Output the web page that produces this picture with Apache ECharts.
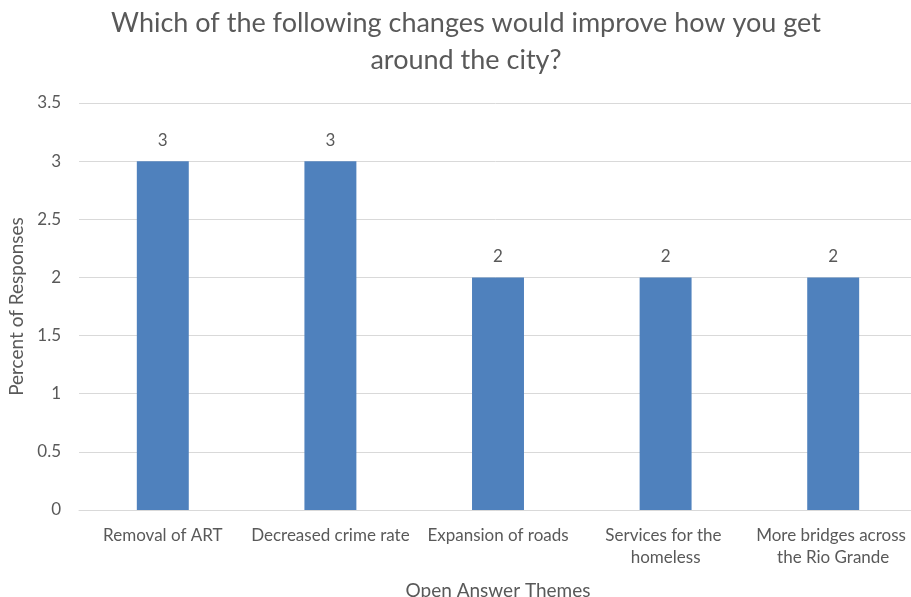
<!DOCTYPE html>
<html><head><meta charset="utf-8">
<script src="https://cdn.jsdelivr.net/npm/echarts@6/dist/echarts.min.js"></script>
<style>html,body{margin:0;padding:0;background:#fff}#c{width:911px;height:597px}</style>
</head><body><div id="c"></div>
<script>
const titleText = "Which of the following changes would improve how you get\naround the city?";
const categories = ["Removal of ART", "Decreased crime rate", "Expansion of roads", "Services for the homeless", "More bridges across the Rio Grande"];
const values = [3, 3, 2, 2, 2];
const yAxisName = "Percent of Responses";
const xAxisName = "Open Answer Themes";
const FONT = "Lato";
const TXT = "#595959";
const chart = echarts.init(document.getElementById('c'));
chart.setOption({
  animation: false,
  textStyle: {fontFamily: FONT},
  title: {text: titleText, left: 461, top: 0, textAlign: 'center',
    textStyle: {fontFamily: FONT, fontSize: 27, fontWeight: 'normal', color: TXT, lineHeight: 37}},
  grid: {left: 79, right: -6, top: 103, bottom: 87, containLabel: false, outerBoundsMode: 'none'},
  xAxis: {type: 'category', data: categories,
    name: xAxisName, nameLocation: 'middle', nameGap: 71,
    nameTextStyle: {fontFamily: FONT, fontSize: 19, color: TXT},
    axisLine: {lineStyle: {color: '#d9d9d9'}}, axisTick: {show: false},
    axisLabel: {interval: 0, color: TXT, fontSize: 17, fontFamily: FONT, margin: 15, width: 165, overflow: 'break', lineHeight: 22}},
  yAxis: {type: 'value', min: 0, max: 3.5, interval: 0.5,
    name: yAxisName, nameLocation: 'middle', nameGap: 51,
    nameTextStyle: {fontFamily: FONT, fontSize: 19, color: TXT},
    axisLine: {show: false}, axisTick: {show: false},
    axisLabel: {color: TXT, fontSize: 17, fontFamily: FONT, margin: 18},
    splitLine: {lineStyle: {color: '#d9d9d9'}}},
  series: [{type: 'bar', data: values, barWidth: '31%',
    itemStyle: {color: '#4f81bd'},
    label: {show: true, position: 'top', distance: 12, color: TXT, fontSize: 17, fontFamily: FONT}}]
});
</script></body></html>
